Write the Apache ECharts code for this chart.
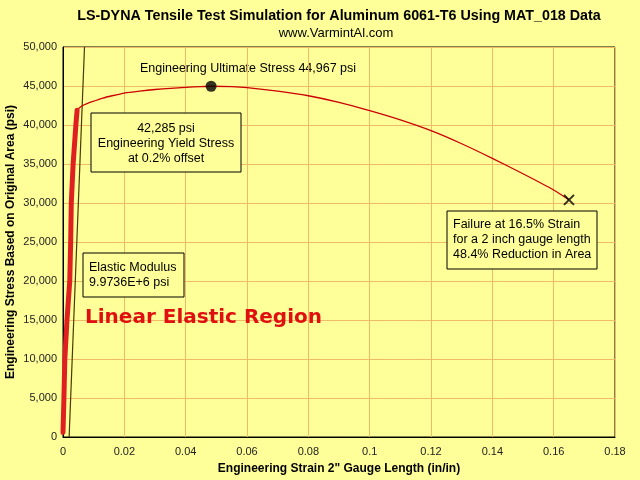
<!DOCTYPE html>
<html>
<head>
<meta charset="utf-8">
<script src="https://cdn.jsdelivr.net/npm/echarts@6/dist/echarts.min.js"></script>
<style>
  html, body { margin: 0; padding: 0; background: #ffff99; }
  #chart { width: 640px; height: 480px; }
</style>
</head>
<body>
<div id="chart"></div>
<script>
// elastic part of the curve (drawn thick)
const elasticStrain = [0.0000, 0.0003, 0.0006, 0.0013, 0.0022, 0.0025, 0.0027, 0.0033, 0.0042, 0.0046];
const elasticStress = [600, 5000, 10000, 15000, 20000, 25000, 30000, 35000, 40000, 41900];

// plastic part up to failure
const plasticStrain = [0.0046, 0.006, 0.008, 0.010, 0.013, 0.016, 0.020, 0.025, 0.030, 0.035, 0.040,
  0.045, 0.0483, 0.055, 0.060, 0.070, 0.080, 0.090, 0.100, 0.110, 0.120, 0.130, 0.140, 0.150, 0.160, 0.165];
const plasticStress = [41900, 42400, 42780, 43050, 43450, 43750, 44100, 44350, 44550, 44700, 44830,
  44930, 44967, 44920, 44800, 44350, 43750, 42900, 41830, 40650, 39270, 37600, 35730, 33750, 31670, 30400];

// 0.2% offset line
const offsetStrain = [0.002, 0.00701];
const offsetStress = [0, 50000];

const ultimatePoint = [0.0483, 44967];
const failurePoint = [0.165, 30400];

const xTicks = { min: 0, max: 0.18, step: 0.02 };
const yTicks = { min: 0, max: 50000, step: 5000 };

const FONT = 'Liberation Sans, Arial, sans-serif';

const zip = (a, b) => a.map((v, i) => [v, b[i]]);

const chart = echarts.init(document.getElementById('chart'));

const option = {
  backgroundColor: '#ffff99',
  animation: false,
  title: [
    {
      text: 'LS-DYNA Tensile Test Simulation for Aluminum 6061-T6 Using MAT_018 Data',
      left: 334, top: 4, textAlign: 'center',
      textStyle: { fontFamily: FONT, fontSize: 14.3, fontWeight: 'bold', color: '#000' }
    },
    {
      text: 'www.VarmintAl.com',
      left: 331, top: 22, textAlign: 'center',
      textStyle: { fontFamily: FONT, fontSize: 13, fontWeight: 'normal', color: '#000' }
    }
  ],
  grid: {
    left: 63, right: 25, top: 47, bottom: 43,
    outerBoundsMode: 'none', containLabel: false,
    show: true, borderColor: '#000', borderWidth: 1, backgroundColor: '#ffff99'
  },
  xAxis: {
    type: 'value',
    min: xTicks.min, max: xTicks.max, interval: xTicks.step,
    name: 'Engineering Strain 2" Gauge Length (in/in)',
    nameLocation: 'middle', nameGap: 26, nameMoveOverlap: false,
    nameTextStyle: { fontFamily: FONT, fontSize: 12, fontWeight: 'bold', color: '#000' },
    axisLine: { lineStyle: { color: '#000', width: 1 } },
    axisTick: { show: false },
    axisLabel: { fontFamily: FONT, fontSize: 11, color: '#222', margin: 9 },
    splitLine: { show: true, lineStyle: { color: '#eebb66', width: 1 } }
  },
  yAxis: {
    type: 'value',
    min: yTicks.min, max: yTicks.max, interval: yTicks.step,
    name: 'Engineering Stress Based on Original Area (psi)',
    nameLocation: 'middle', nameGap: 46, nameMoveOverlap: false,
    nameTextStyle: { fontFamily: FONT, fontSize: 12, fontWeight: 'bold', color: '#000' },
    axisLine: { show: true, lineStyle: { color: '#000', width: 1 } },
    axisTick: { show: false },
    axisLabel: {
      fontFamily: FONT, fontSize: 11, color: '#222', margin: 6,
      formatter: v => v.toLocaleString('en-US')
    },
    splitLine: { show: true, lineStyle: { color: '#eebb66', width: 1 } }
  },
  series: [
    {
      type: 'line',
      data: zip(offsetStrain, offsetStress),
      symbol: 'none',
      lineStyle: { color: '#4a3a00', width: 1.2 },
      z: 3
    },
    {
      type: 'line',
      data: zip(plasticStrain, plasticStress),
      symbol: 'none',
      smooth: 0.2,
      lineStyle: { color: '#cc0000', width: 1.3 },
      z: 4
    },
    {
      type: 'line',
      data: zip(elasticStrain, elasticStress),
      symbol: 'none',
      lineStyle: { color: '#e02020', width: 5, cap: 'round' },
      z: 5
    },
    {
      type: 'scatter',
      data: [ultimatePoint],
      symbol: 'circle',
      symbolSize: 11,
      itemStyle: { color: '#000' },
      z: 6
    },
    {
      type: 'scatter',
      data: [failurePoint],
      symbol: 'path://M0,0L10,10M10,0L0,10',
      symbolSize: 10,
      itemStyle: { color: 'none', borderColor: '#000', borderWidth: 2 },
      z: 6
    }
  ],
  graphic: [
    {
      type: 'text', left: 140, top: 62,
      style: { text: 'Engineering Ultimate Stress 44,967 psi', font: '12.5px ' + FONT, fill: '#000' }
    },
    {
      type: 'rect', shape: { x: 91, y: 113, width: 150, height: 59 },
      style: { fill: '#ffff99', stroke: '#000', lineWidth: 1 }, z: 10
    },
    {
      type: 'text', x: 166, y: 121, z: 11,
      style: {
        text: '42,285 psi\nEngineering Yield Stress\nat 0.2% offset',
        font: '12.5px ' + FONT, fill: '#000', align: 'center', lineHeight: 15
      }
    },
    {
      type: 'rect', shape: { x: 83, y: 253, width: 101, height: 44 },
      style: { fill: '#ffff99', stroke: '#000', lineWidth: 1 }, z: 10
    },
    {
      type: 'text', x: 89, y: 260, z: 11,
      style: {
        text: 'Elastic Modulus\n9.9736E+6 psi',
        font: '12.5px ' + FONT, fill: '#000', lineHeight: 15
      }
    },
    {
      type: 'rect', shape: { x: 447, y: 211, width: 150, height: 58 },
      style: { fill: '#ffff99', stroke: '#000', lineWidth: 1 }, z: 10
    },
    {
      type: 'text', x: 453, y: 217, z: 11,
      style: {
        text: 'Failure at 16.5% Strain\nfor a 2 inch gauge length\n48.4% Reduction in Area',
        font: '12.5px ' + FONT, fill: '#000', lineHeight: 15
      }
    },
    {
      type: 'text', x: 85, y: 308, z: 11,
      style: {
        text: 'Linear Elastic Region',
        font: 'bold 20px "DejaVu Sans", sans-serif', fill: '#e01010'
      }
    }
  ]
};

chart.setOption(option);
</script>
</body>
</html>
